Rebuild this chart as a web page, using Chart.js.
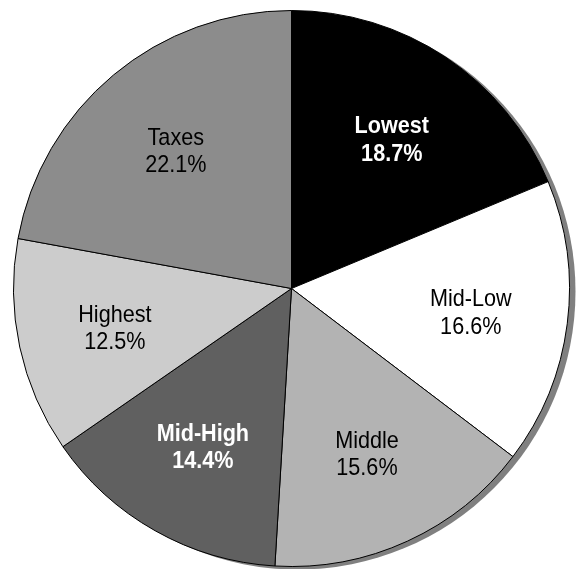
<!DOCTYPE html>
<html>
<head>
<meta charset="utf-8">
<script src="https://cdn.jsdelivr.net/npm/chart.js@4.4.0/dist/chart.umd.min.js"></script>
<style>
  html, body { margin: 0; padding: 0; background: #fff; }
  #wrap { width: 577px; height: 569px; }
</style>
</head>
<body>
<div id="wrap"><canvas id="pie"></canvas></div>
<script>
var categories = ["Lowest", "Mid-Low", "Middle", "Mid-High", "Highest", "Taxes"];
var shares = [18.7, 16.6, 15.6, 14.4, 12.5, 22.1];
var sliceColors = ["#000000", "#ffffff", "#b3b3b3", "#606060", "#cccccc", "#8c8c8c"];
var labelColors = ["#ffffff", "#000000", "#000000", "#ffffff", "#000000", "#000000"];
var boldLabels = [true, false, false, true, false, false];

// gray drop shadow behind the pie
var shadowPlugin = {
	id: "pieShadow",
	beforeDatasetsDraw(chart) {
		var arc = chart.getDatasetMeta(0).data[0];
		if (!arc) return;
		var ctx = chart.ctx;
		ctx.save();
		ctx.fillStyle = "#808080";
		ctx.beginPath();
		ctx.arc(arc.x + 6, arc.y + 3, arc.outerRadius, 0, Math.PI * 2);
		ctx.fill();
		ctx.restore();
	}
};

// two line labels: name and percent
var labelPlugin = {
	id: "sliceLabels",
	afterDatasetsDraw(chart) {
		var ctx = chart.ctx;
		var meta = chart.getDatasetMeta(0);
		meta.data.forEach(function(arc, i) {
			var mid = (arc.startAngle + arc.endAngle) / 2;
			var r = arc.outerRadius * 0.65;
			var x = arc.x + Math.cos(mid) * r;
			var y = arc.y + Math.sin(mid) * r;
			var lines = [categories[i], shares[i].toFixed(1) + "%"];
			ctx.save();
			ctx.fillStyle = labelColors[i];
			ctx.font = (boldLabels[i] ? "bold " : "") + "24px 'Liberation Sans', Arial, sans-serif";
			ctx.textAlign = "center";
			ctx.textBaseline = "alphabetic";
			ctx.translate(x, y);
			ctx.scale(0.9, 1);
			ctx.fillText(lines[0], 0, -5);
			ctx.fillText(lines[1], 0, 22.5);
			ctx.restore();
		});
	}
};

new Chart(document.getElementById("pie"), {
	type: "pie",
	data: {
		labels: categories,
		datasets: [{
			data: shares,
			backgroundColor: sliceColors,
			borderColor: "#000000",
			borderWidth: 1
		}]
	},
	options: {
		responsive: true,
		maintainAspectRatio: false,
		animation: false,
		layout: { padding: { top: 10, bottom: 2, left: 13, right: 7 } },
		plugins: {
			legend: { display: false },
			tooltip: { enabled: false }
		}
	},
	plugins: [shadowPlugin, labelPlugin]
});
</script>
</body>
</html>
